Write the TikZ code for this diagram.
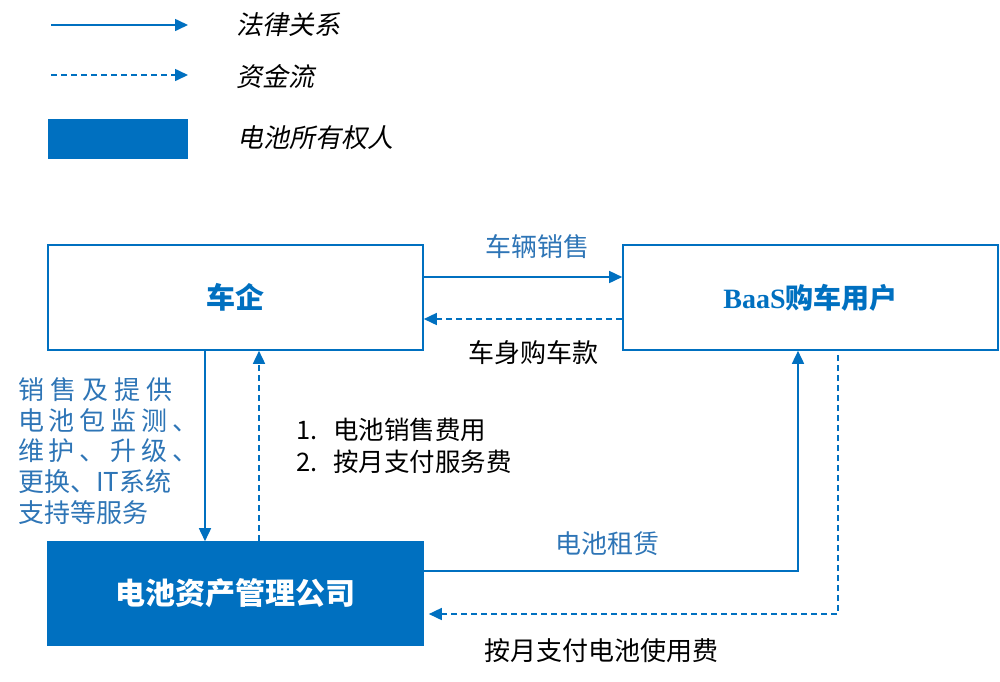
\documentclass[tikz,border=0pt]{standalone}
\usepackage{fontspec}
\setmainfont{Noto Sans CJK SC}
\newfontfamily\cjkit[FakeSlant=0.2]{Noto Sans CJK SC}
\newfontfamily\tnr{Liberation Serif}
\usetikzlibrary{arrows.meta,calc}
\definecolor{bblue}{HTML}{0070C0}
\definecolor{tblue}{HTML}{2E75B6}
\begin{document}
\begin{tikzpicture}[x=1pt,y=-1pt,
  law/.style={draw=bblue,line width=1.6pt,-{Triangle[length=13pt,width=12pt]}},
  money/.style={law,dash pattern=on 6pt off 4pt},
  box/.style={draw=bblue,line width=1.6pt,minimum width=375pt,minimum height=105pt,inner sep=0pt,fill=white},
  lbl/.style={inner sep=0pt,font=\fontsize{26}{30}\selectfont},
  leg/.style={inner sep=0pt,anchor=west,font=\cjkit\fontsize{26}{30}\selectfont}]
\useasboundingbox (0,0) rectangle (1000,681);
% legend
\coordinate (l1a) at (51,25);  \coordinate (l1b) at (188,25);
\coordinate (l2a) at (51,75);  \coordinate (l2b) at (188,75);
\draw[law] (l1a) -- (l1b);
\draw[money] (l2a) -- (l2b);
\node[fill=bblue,minimum width=140pt,minimum height=40pt,inner sep=0pt] (legbox) at (118,139) {};
\node[leg] (t1) at (236,25) {法律关系};
\node[leg] (t2) at (236,77) {资金流};
\node[leg] (t3) at (237,138) {电池所有权人};
% boxes
\node[box] (che) at (235.5,297.5) {\fontsize{29}{32}\selectfont\bfseries\color{bblue}车企};
\node[box] (baas) at (810.5,297.5) {\fontsize{28}{32}\selectfont\bfseries\color{bblue}{\tnr BaaS}购车用户};
\node[box,fill=bblue,minimum height=103pt] (batt) at (235.5,593.5) {\fontsize{30}{34}\selectfont\bfseries\color{white}电池资产管理公司};
% connectors
\draw[law] ([yshift=20.5pt]che.east) -- ([yshift=20.5pt]baas.west);
\draw[money] ([yshift=-21.5pt]baas.west) -- ([yshift=-21.5pt]che.east);
\draw[law] ([xshift=-30.5pt]che.south) -- ([xshift=-30.5pt]batt.north);
\draw[money] ([xshift=23.5pt]batt.north) -- ([xshift=23.5pt]che.south);
\draw[law] ([yshift=22.5pt]batt.east) -| ([xshift=-12.5pt]baas.south);
\draw[money] ([xshift=27.5pt,yshift=-4pt]baas.south) |- ([xshift=5pt,yshift=-20.5pt]batt.east);
% labels
\node[lbl,text=tblue] (sale) at (537,247) {车辆销售};
\node[lbl] (pay) at (533,353) {车身购车款};
\node[lbl,text=tblue] (lease) at (607,544) {电池租赁};
\node[lbl] (fee) at (601,651) {按月支付电池使用费};
\node[inner sep=0pt,anchor=west,align=left,font=\fontsize{25.5}{32}\selectfont] (list) at (296,446)
  {1.\hspace{16pt}电池销售费用\\2.\hspace{16pt}按月支付服务费};
\node[inner sep=0pt,anchor=west,align=left,text=tblue,font=\fontsize{26}{30.8}\selectfont] (svc) at (18,451)
  {\makebox[154pt][l]{销\hfill 售\hfill 及\hfill 提\hfill 供}\\
   \makebox[180pt][l]{电\hfill 池\hfill 包\hfill 监\hfill 测\hfill 、}\\
   \makebox[180pt][l]{维\hfill 护\hfill 、\hfill 升\hfill 级\hfill 、}\\
   更换、IT系统\\
   支持等服务};
\end{tikzpicture}
\end{document}
